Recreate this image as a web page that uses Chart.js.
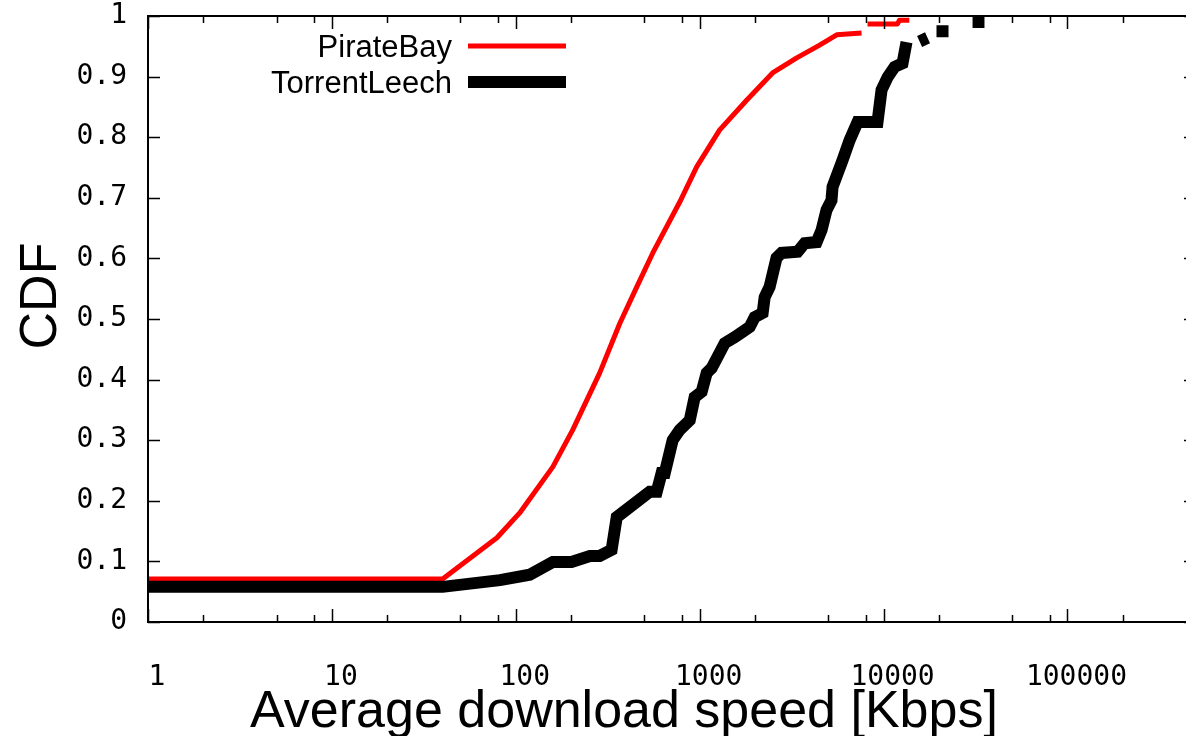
<!DOCTYPE html>
<html>
<head>
<meta charset="utf-8">
<title>CDF of average download speed</title>
<script src="https://cdn.jsdelivr.net/npm/chart.js@4.4.1/dist/chart.umd.min.js"></script>
<style>
  html, body { margin: 0; padding: 0; background: #fff; overflow: hidden; }
  canvas { display: block; }
</style>
</head>
<body>
<canvas id="cdfChart" width="1210" height="736"></canvas>
<script>
// Valores (x en Kbps, y = CDF); null = hueco en la linea
const pirateSpeed = [1, 40, 79, 105, 159, 204, 286, 368, 455, 556, 779, 963, 1285, 1800, 2490, 3370, 4490, 5560, 7590, 7900, 8180, 11900, 12200, 13800, 15000, 16250, 16350];
const pirateCdf = [0.071, 0.071, 0.139, 0.180, 0.256, 0.317, 0.411, 0.493, 0.553, 0.609, 0.693, 0.751, 0.812, 0.861, 0.906, 0.931, 0.952, 0.969, 0.972, null, 0.987, 0.987, 0.993, 0.993, null, 0.997, 0.997];

const leechSpeed = [1, 40, 82, 119, 159, 201, 253, 286, 332, 354, 535, 584, 621, 646, 713, 779, 883, 939, 1025, 1092, 1162, 1368, 1550, 1713, 1871, 1991, 2200, 2256, 2400, 2618, 2790, 3410, 3723, 4324, 4603, 4898, 5210, 5280, 5985, 6535, 7220, 9270, 9750, 10520, 11480, 12680, 13330, 14500, 15700, 17340, 18500, 19400, 22550, 27000, 30470, 35380];
const leechCdf = [0.058, 0.058, 0.069, 0.078, 0.099, 0.099, 0.109, 0.109, 0.119, 0.173, 0.215, 0.215, 0.246, 0.246, 0.300, 0.317, 0.333, 0.371, 0.380, 0.411, 0.419, 0.460, 0.470, 0.479, 0.487, 0.503, 0.510, 0.536, 0.553, 0.601, 0.609, 0.611, 0.625, 0.627, 0.647, 0.680, 0.696, 0.718, 0.762, 0.795, 0.825, 0.825, 0.878, 0.899, 0.916, 0.922, 0.957, null, 0.958, 0.964, null, 0.975, 0.975, null, 0.99, 0.99];

const xTickValues = [1, 2, 5, 8, 10, 20, 50, 80, 100, 200, 500, 800, 1000, 2000, 5000, 8000, 10000, 20000, 50000, 80000, 100000, 200000, 500000];
const xMajorLabels = ['1', '10', '100', '1000', '10000', '100000'];
const yTickLabels = ['0', '0.1', '0.2', '0.3', '0.4', '0.5', '0.6', '0.7', '0.8', '0.9', '1'];

const seriesNames = ['PirateBay', 'TorrentLeech'];
const xTitle = 'Average download speed [Kbps]';
const yTitle = 'CDF';

function toPoints(xs, ys) {
    return xs.map((x, i) => ({ x: x, y: ys[i] }));
}

function isDecade(v) {
    const l = Math.log10(v);
    return Math.abs(l - Math.round(l)) < 1e-9;
}

// Marco + ticks hacia dentro (estilo gnuplot), titulos y leyenda
const gnuplotFrame = {
    id: 'gnuplotFrame',
    afterDraw(chart) {
        const ctx = chart.ctx;
        const a = chart.chartArea;
        const xs = chart.scales.x;
        const ys = chart.scales.y;
        ctx.save();
        ctx.strokeStyle = '#000';
        ctx.lineWidth = 1.5;
        ctx.beginPath();
        xs.ticks.forEach(t => {
            const px = Math.round(xs.getPixelForValue(t.value)) + 0.5;
            const len = isDecade(t.value) ? 13 : 7;
            ctx.moveTo(px, a.bottom); ctx.lineTo(px, a.bottom - len);
            ctx.moveTo(px, a.top); ctx.lineTo(px, a.top + len);
        });
        ys.ticks.forEach(t => {
            const py = Math.round(ys.getPixelForValue(t.value)) + 0.5;
            ctx.moveTo(a.left, py); ctx.lineTo(a.left + 12, py);
            ctx.moveTo(a.right, py); ctx.lineTo(a.right - 12, py);
        });
        ctx.stroke();
        ctx.lineWidth = 2;
        ctx.strokeRect(a.left, a.top, a.right - a.left, a.bottom - a.top);

        // titulos de los ejes
        ctx.fillStyle = '#000';
        ctx.font = '52px "Liberation Sans", Arial, sans-serif';
        ctx.textAlign = 'center';
        ctx.textBaseline = 'alphabetic';
        ctx.fillText(xTitle, 624, 727);
        ctx.save();
        ctx.translate(56, 296);
        ctx.rotate(-Math.PI / 2);
        ctx.fillText(yTitle, 0, 0);
        ctx.restore();

        // leyenda
        ctx.font = '31px "Liberation Sans", Arial, sans-serif';
        ctx.textAlign = 'right';
        chart.data.datasets.forEach((ds, i) => {
            const yLine = a.top + 30 + i * 36;
            ctx.fillStyle = '#000';
            ctx.fillText(ds.label, a.left + 304, yLine + 11);
            ctx.strokeStyle = ds.borderColor;
            ctx.lineWidth = ds.borderWidth;
            ctx.lineCap = 'butt';
            ctx.beginPath();
            ctx.moveTo(a.left + 320, yLine);
            ctx.lineTo(a.left + 418, yLine);
            ctx.stroke();
        });
        ctx.restore();
    }
};

const tickFont = { family: '"DejaVu Sans Mono", monospace', size: 28 };

new Chart(document.getElementById('cdfChart'), {
    type: 'line',
    data: {
        datasets: [{
            label: seriesNames[0],
            data: toPoints(pirateSpeed, pirateCdf),
            borderColor: '#ff0000',
            borderWidth: 5,
            pointRadius: 0,
            spanGaps: false,
            tension: 0,
            borderCapStyle: 'butt',
            borderJoinStyle: 'round',
            order: 1
        }, {
            label: seriesNames[1],
            data: toPoints(leechSpeed, leechCdf),
            borderColor: '#000000',
            borderWidth: 12,
            pointRadius: 0,
            spanGaps: false,
            tension: 0,
            borderCapStyle: 'butt',
            borderJoinStyle: 'miter',
            order: 0
        }]
    },
    options: {
        responsive: false,
        animation: false,
        devicePixelRatio: 1,
        layout: { autoPadding: false, padding: { top: 16, right: 14, left: 0, bottom: 0 } },
        plugins: {
            legend: { display: false },
            tooltip: { enabled: false }
        },
        scales: {
            x: {
                type: 'logarithmic',
                min: 1,
                max: 500000,
                grid: { display: false, drawTicks: false },
                border: { display: false },
                afterBuildTicks: (scale) => {
                    scale.ticks = xTickValues.map(v => ({ value: v }));
                },
                afterFit: (scale) => {
                    scale.height = 114;
                    scale.paddingLeft = 0;
                    scale.paddingRight = 0;
                },
                ticks: {
                    autoSkip: false,
                    maxRotation: 0,
                    padding: 39,
                    labelOffset: 9,
                    color: '#000',
                    font: tickFont,
                    callback: (v) => {
                        if (!isDecade(v)) return '';
                        const s = String(Math.round(v));
                        return xMajorLabels.includes(s) ? s : '';
                    }
                }
            },
            y: {
                min: 0,
                max: 1,
                grid: { display: false, drawTicks: false },
                border: { display: false },
                afterBuildTicks: (scale) => {
                    scale.ticks = yTickLabels.map(l => ({ value: parseFloat(l) }));
                },
                afterFit: (scale) => {
                    scale.width = 148;
                    scale.paddingTop = 0;
                    scale.paddingBottom = 0;
                },
                ticks: {
                    padding: 21,
                    color: '#000',
                    font: tickFont,
                    callback: (v, i) => yTickLabels[i]
                }
            }
        }
    },
    plugins: [gnuplotFrame]
});
</script>
</body>
</html>
